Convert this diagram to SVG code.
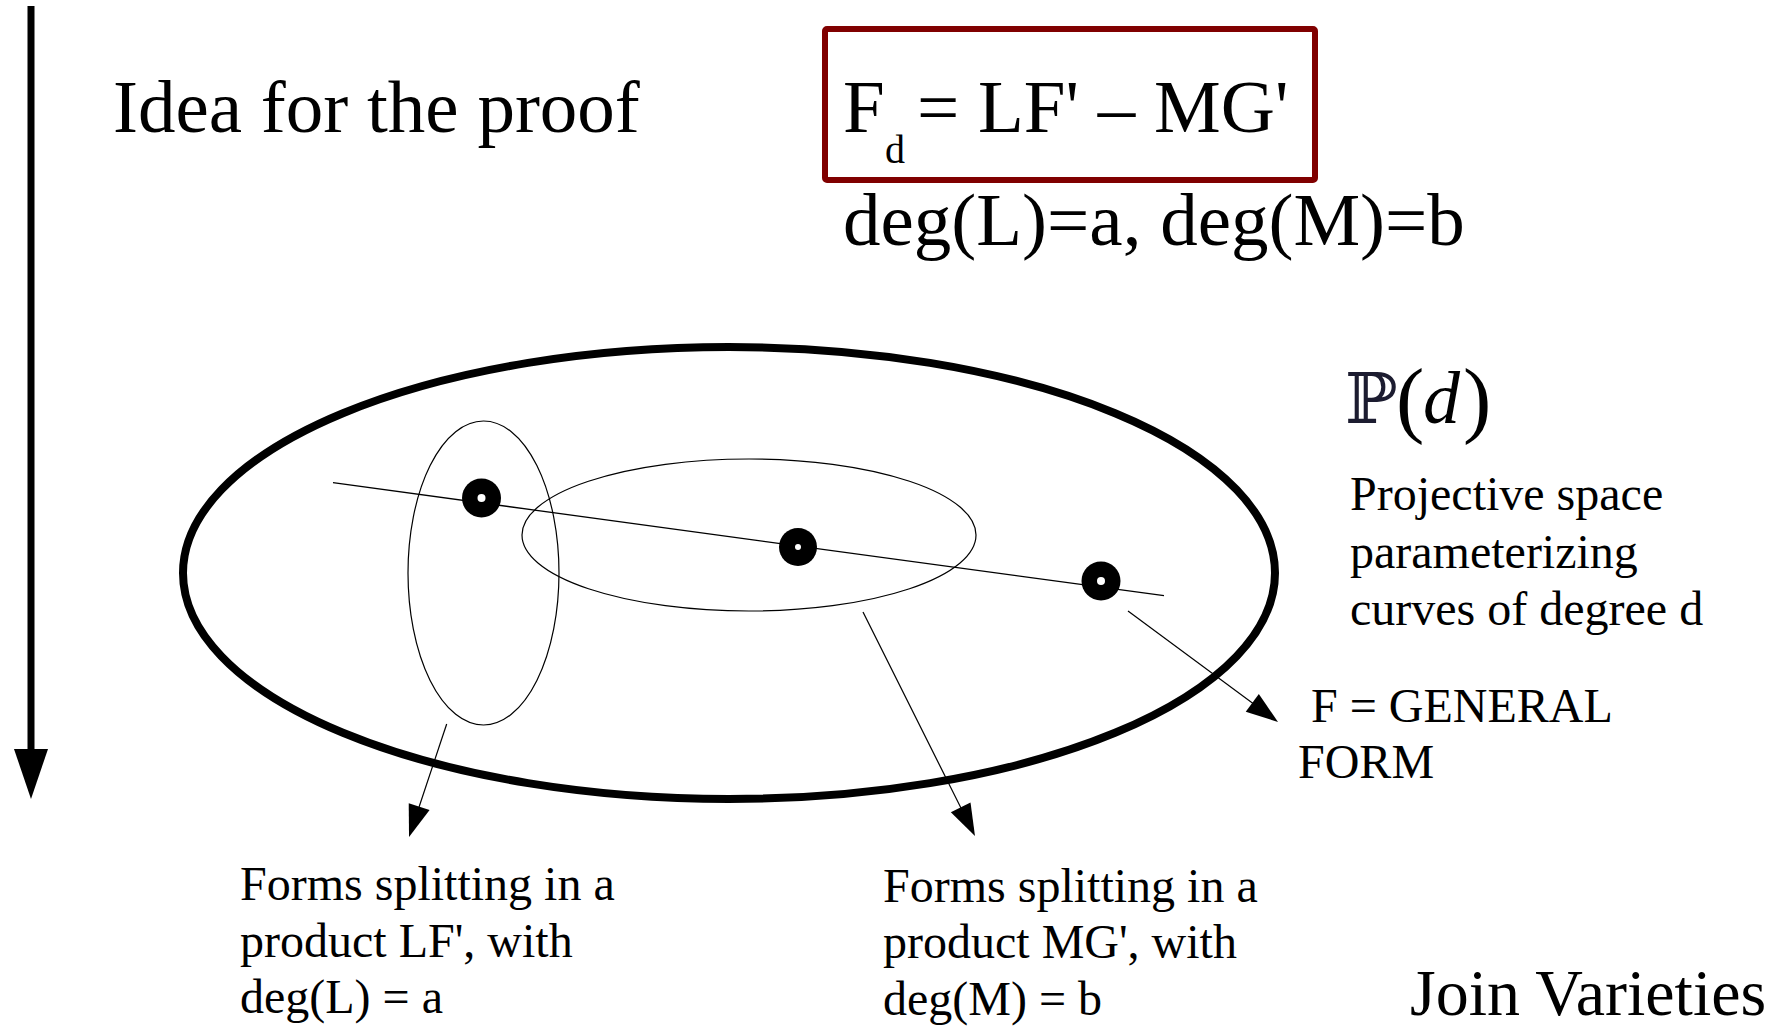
<svg xmlns="http://www.w3.org/2000/svg" width="1775" height="1026" viewBox="0 0 1775 1026">
<style>
  .t { font-family: "Liberation Serif", "Times New Roman", serif; fill: #000; }
  .thin { fill: none; stroke: #000; stroke-width: 1.2; }
  .conn { fill: none; stroke: #000; stroke-width: 1.2; marker-end: url(#ah); }
  .dot { fill: #000; }
  .hole { fill: #fff; }
</style>
<defs>
  <marker id="ah" markerUnits="userSpaceOnUse" orient="auto" overflow="visible" refX="28" refY="0" markerWidth="40" markerHeight="30">
    <path d="M0,-11 L32,0 L0,11 Z" fill="#000"/>
  </marker>
  <marker id="bigah" markerUnits="userSpaceOnUse" orient="auto" overflow="visible" refX="21" refY="0" markerWidth="60" markerHeight="40">
    <path d="M0,-17 L50,0 L0,17 Z" fill="#000"/>
  </marker>
</defs>
<rect width="1775" height="1026" fill="#fff"/>

<g id="title">
  <text class="t" x="113" y="132" font-size="75">Idea for the proof</text>
</g>

<g id="formula">
  <rect x="825" y="29" width="490" height="151" rx="2" fill="none" stroke="#800000" stroke-width="6"/>
  <text class="t" x="843" y="132" font-size="75">F</text>
  <text class="t" x="885" y="163" font-size="40">d</text>
  <text class="t" x="917" y="132" font-size="75">= LF' – MG'</text>
</g>

<g id="degrees">
  <text class="t" x="843" y="245" font-size="75">deg(L)=a, deg(M)=b</text>
</g>

<g id="space-label">
  <text x="1345" y="423" font-size="70" font-family="DejaVu Serif, DejaVu Sans, serif" fill="#1c1c30">ℙ</text>
  <text class="t" x="1396" y="427" font-size="85" fill="#1c1c30">(</text>
  <text class="t" x="1423" y="423" font-size="74" font-style="italic" fill="#1c1c30">d</text>
  <text class="t" x="1463" y="427" font-size="85" fill="#1c1c30">)</text>
  <text class="t" x="1350" y="510" font-size="48">Projective space</text>
  <text class="t" x="1350" y="568" font-size="48">parameterizing</text>
  <text class="t" x="1350" y="625" font-size="48">curves of degree d</text>
</g>

<g id="projective-space">
  <ellipse cx="729" cy="573" rx="546" ry="226" fill="none" stroke="#000" stroke-width="8"/>
</g>

<g id="locus-LF">
  <ellipse cx="483.5" cy="573" rx="75.5" ry="152" class="thin"/>
</g>

<g id="locus-MG">
  <ellipse cx="749" cy="535" rx="227" ry="76" class="thin"/>
</g>

<g id="pencil-line">
  <line x1="333" y1="482.7" x2="1164" y2="595.7" stroke="#000" stroke-width="1.3"/>
</g>

<g id="point-LF">
  <circle class="dot" cx="481.5" cy="498" r="19.5"/>
  <circle class="hole" cx="481.5" cy="498" r="4"/>
</g>
<g id="point-MG">
  <circle class="dot" cx="798" cy="547" r="19"/>
  <circle class="hole" cx="798" cy="547" r="3"/>
</g>
<g id="point-F">
  <circle class="dot" cx="1101" cy="581" r="19.5"/>
  <circle class="hole" cx="1101" cy="581" r="4"/>
</g>

<g id="label-LF">
  <text class="t" x="240" y="900" font-size="48">Forms splitting in a</text>
  <text class="t" x="240" y="957" font-size="48">product LF', with</text>
  <text class="t" x="240" y="1013" font-size="48">deg(L) = a</text>
</g>

<g id="label-MG">
  <text class="t" x="883" y="902" font-size="48">Forms splitting in a</text>
  <text class="t" x="883" y="958" font-size="48">product MG', with</text>
  <text class="t" x="883" y="1015" font-size="48">deg(M) = b</text>
</g>

<g id="label-F">
  <text class="t" x="1311" y="722" font-size="48">F = GENERAL</text>
  <text class="t" x="1298" y="778" font-size="48">FORM</text>
</g>

<g id="footer">
  <text class="t" x="1410" y="1015" font-size="66">Join Varieties</text>
</g>

<g id="connectors">
  <line x1="31" y1="6" x2="31" y2="770" stroke="#000" stroke-width="7" marker-end="url(#bigah)"/>
  <line class="conn" x1="446.7" y1="724" x2="410.3" y2="833.2"/>
  <line class="conn" x1="863" y1="612" x2="973.2" y2="832.4"/>
  <line class="conn" x1="1128" y1="611" x2="1274.8" y2="719.6"/>
</g>
</svg>
